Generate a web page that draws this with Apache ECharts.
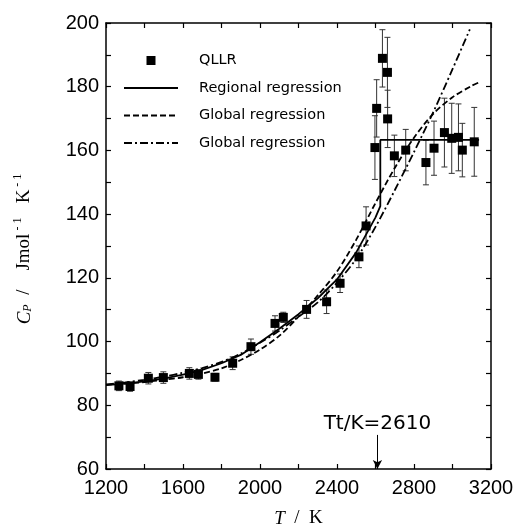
<!DOCTYPE html>
<html>
<head>
<meta charset="utf-8">
<script src="https://cdn.jsdelivr.net/npm/echarts@6/dist/echarts.min.js"></script>
<style>html,body{margin:0;padding:0;background:#fff}#c{width:515px;height:529px}</style>
</head>
<body>
<div id="c"></div>
<script>
// Measured QLLR points
var qT   = [1267, 1325, 1420, 1498, 1633, 1680, 1766, 1858, 1953, 2078, 2121, 2242, 2346, 2416, 2514, 2551, 2597, 2606, 2636, 2662, 2663, 2698, 2757, 2862, 2904, 2958, 2996, 3031, 3051, 3113];
var qCp  = [86.1, 85.9, 88.5, 88.7, 90.0, 89.7, 88.8, 93.2, 98.4, 105.7, 107.6, 110.1, 112.5, 118.3, 126.6, 136.3, 160.9, 173.2, 188.9, 184.5, 169.9, 158.3, 160.1, 156.2, 160.7, 165.6, 163.8, 164.1, 160.1, 162.7];
var qErr = [1.5, 1.5, 1.8, 1.8, 1.8, 1.5, 1.2, 2.0, 2.4, 2.4, 1.6, 2.8, 3.7, 2.9, 3.4, 6.0, 10, 9, 9, 11, 9, 6.5, 6.5, 7, 8.5, 10.8, 11, 10.5, 8.4, 10.8];

// Regional regression (solid)
var regT  = [1200, 1300, 1400, 1500, 1600, 1700, 1800, 1900, 2000, 2100, 2200, 2300, 2400, 2500, 2600, 2625, 2625, 3138];
var regCp = [86.3, 86.8, 87.5, 88.4, 89.6, 91.1, 93.2, 95.8, 99.8, 104.0, 108.6, 113.6, 119.5, 128.0, 139.0, 142.5, 163.3, 163.3];

// Global regression (dashed)
var g1T  = [1200, 1300, 1400, 1500, 1600, 1700, 1800, 1900, 2000, 2100, 2200, 2300, 2400, 2500, 2600, 2700, 2800, 2900, 3000, 3100, 3135];
var g1Cp = [86.5, 86.8, 87.3, 88.0, 88.8, 90.0, 91.6, 94.2, 97.5, 101.8, 107.8, 114.5, 122.0, 132.0, 143.5, 154.5, 164.0, 171.5, 176.7, 180.3, 181.3];

// Global regression (dash-dot)
var g2T  = [1200, 1300, 1400, 1500, 1600, 1700, 1800, 1900, 2000, 2100, 2200, 2300, 2400, 2500, 2600, 2700, 2800, 2900, 3000, 3090];
var g2Cp = [86.5, 87.2, 88.0, 89.0, 90.2, 91.7, 93.6, 96.2, 99.6, 103.4, 107.8, 112.3, 118.5, 126.0, 136.0, 147.5, 159.5, 172.0, 185.5, 198.0];

var xTicks = [1200, 1600, 2000, 2400, 2800, 3200];
var yTicks = [60, 80, 100, 120, 140, 160, 180, 200];
var Tt = 2610;

function zip(a, b) { return a.map(function (v, i) { return [v, b[i]]; }); }

var chart = echarts.init(document.getElementById('c'), null, {renderer: 'canvas'});
var axisLine = {show: true, lineStyle: {color: '#000', width: 1.5}};
var tick = {show: true, inside: true, length: 5, lineStyle: {color: '#000', width: 1.2}};
var labFont = {color: '#000', fontSize: 20, fontFamily: 'Liberation Sans'};
var noSym = {color: 'rgba(0,0,0,0)', borderWidth: 0, opacity: 0};

var option = {
  animation: false,
  backgroundColor: '#fff',
  grid: {left: 106, right: 24, top: 23, bottom: 60, containLabel: false, outerBoundsMode: 'none'},
  legend: {
    orient: 'vertical', left: 123, top: 53, padding: 0,
    itemWidth: 54, itemHeight: 9, itemGap: 12.5,
    textStyle: {color: '#000', fontSize: 14.5, fontFamily: 'DejaVu Sans', padding: [0, 0, 0, 16]},
    data: [
      {name: 'QLLR', icon: 'path://M0,0L10,0L10,10L0,10Z', itemStyle: {color: '#000', opacity: 1}},
      {name: 'Regional regression', itemStyle: noSym},
      {name: 'Global regression', itemStyle: noSym},
      {name: 'Global regression ', itemStyle: noSym}
    ]
  },
  xAxis: [{
    type: 'value', min: 1200, max: 3200, interval: 200, position: 'bottom',
    axisLine: axisLine, axisTick: tick, splitLine: {show: false},
    axisLabel: Object.assign({margin: 9, formatter: function (v) { return xTicks.indexOf(v) >= 0 ? String(v) : ''; }}, labFont),
    name: '{i|T}{n|  /  K}', nameLocation: 'middle', nameGap: 40,
    nameTextStyle: {rich: {
      i: {fontFamily: 'Liberation Serif', fontStyle: 'italic', fontSize: 19, color: '#000'},
      n: {fontFamily: 'Liberation Serif', fontSize: 19, color: '#000'}
    }}
  }, {
    type: 'value', min: 1200, max: 3200, interval: 200, position: 'top',
    axisLine: axisLine, axisTick: tick, axisLabel: {show: false}, splitLine: {show: false}
  }],
  yAxis: [{
    type: 'value', min: 60, max: 200, interval: 10, position: 'left',
    axisLine: axisLine, axisTick: tick, splitLine: {show: false},
    axisLabel: Object.assign({margin: 7, formatter: function (v) { return yTicks.indexOf(v) >= 0 ? String(v) : ''; }}, labFont)
  }, {
    type: 'value', min: 60, max: 200, interval: 10, position: 'right',
    axisLine: axisLine, axisTick: tick, axisLabel: {show: false}, splitLine: {show: false}
  }],
  graphic: [{
    type: 'text', x: 23, y: 249, rotation: Math.PI / 2,
    style: {
      text: '{i|C}{s|P}{n|  /    Jmol}{sup| - 1}{n|   K}{sup| - 1}',
      align: 'center', verticalAlign: 'middle',
      rich: {
        i: {fontFamily: 'Liberation Serif', fontStyle: 'italic', fontSize: 19, fill: '#000', lineHeight: 22, verticalAlign: 'bottom'},
        s: {fontFamily: 'Liberation Serif', fontStyle: 'italic', fontSize: 12, fill: '#000', lineHeight: 14, verticalAlign: 'bottom'},
        n: {fontFamily: 'Liberation Serif', fontSize: 19, fill: '#000', lineHeight: 22, verticalAlign: 'bottom'},
        sup: {fontFamily: 'Liberation Serif', fontSize: 12, fill: '#000', lineHeight: 12, verticalAlign: 'top'}
      }
    }
  }],
  series: [
    {
      name: 'errbars', type: 'custom', silent: true, z: 2,
      data: qT.map(function (t, i) { return [t, qCp[i] - qErr[i], qCp[i] + qErr[i]]; }),
      renderItem: function (params, api) {
        var lo = api.coord([api.value(0), api.value(1)]);
        var hi = api.coord([api.value(0), api.value(2)]);
        var w = 3;
        var st = {stroke: '#333', lineWidth: 1};
        return {type: 'group', children: [
          {type: 'line', shape: {x1: lo[0], y1: lo[1], x2: hi[0], y2: hi[1]}, style: st},
          {type: 'line', shape: {x1: lo[0] - w, y1: lo[1], x2: lo[0] + w, y2: lo[1]}, style: st},
          {type: 'line', shape: {x1: hi[0] - w, y1: hi[1], x2: hi[0] + w, y2: hi[1]}, style: st}
        ]};
      }
    },
    {
      name: 'QLLR', type: 'scatter', symbol: 'rect', symbolSize: 9, z: 4,
      itemStyle: {color: '#000', opacity: 1},
      data: zip(qT, qCp),
      markLine: {
        silent: true, symbol: ['none', 'arrow'], symbolSize: [7, 9],
        lineStyle: {color: '#000', width: 1, type: 'solid'},
        label: {show: true, position: 'start', distance: 1, formatter: 'Tt/K=' + Tt,
                color: '#000', fontSize: 20, fontFamily: 'DejaVu Sans'},
        data: [[{coord: [Tt, 70.7]}, {coord: [Tt, 60]}]]
      }
    },
    {
      name: 'Regional regression', type: 'line', symbol: 'none', showSymbol: false, z: 3,
      lineStyle: {color: '#000', width: 1.8, type: 'solid'}, itemStyle: {color: '#000'},
      data: zip(regT, regCp), smooth: false
    },
    {
      name: 'Global regression', type: 'line', symbol: 'none', showSymbol: false, z: 3,
      lineStyle: {color: '#000', width: 1.8, type: [6, 3]}, itemStyle: {color: '#000'},
      data: zip(g1T, g1Cp), smooth: 0.3
    },
    {
      name: 'Global regression ', type: 'line', symbol: 'none', showSymbol: false, z: 3,
      lineStyle: {color: '#000', width: 1.8, type: [8, 3, 2, 3]}, itemStyle: {color: '#000'},
      data: zip(g2T, g2Cp), smooth: 0.3
    }
  ]
};
chart.setOption(option);
</script>
</body>
</html>
